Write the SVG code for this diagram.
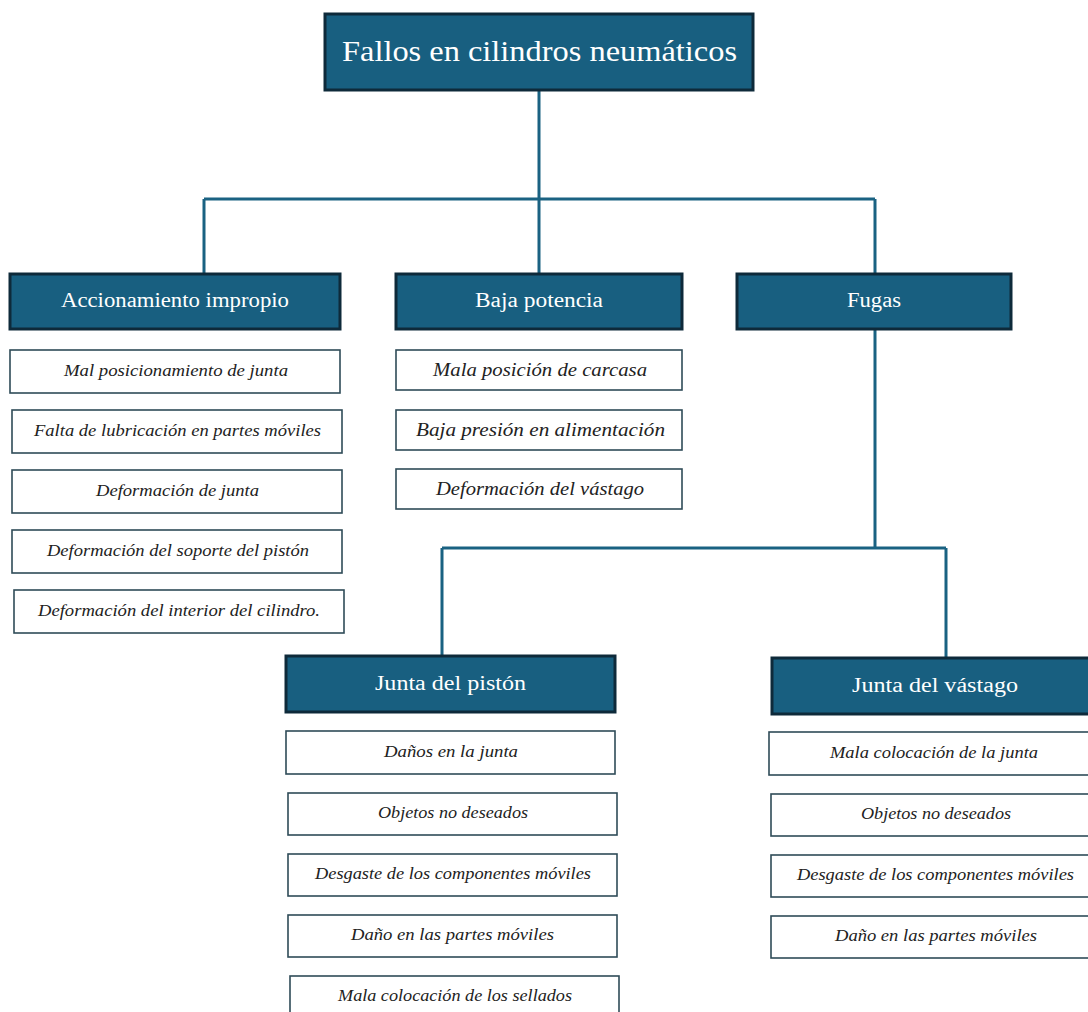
<svg xmlns="http://www.w3.org/2000/svg" width="1088" height="1012" viewBox="0 0 1088 1012">
<style>
.hd{fill:#185f80;stroke:#0e2a3a;stroke-width:3}
.it{fill:#ffffff;stroke:#2f4b58;stroke-width:1.6}
.ht{font-family:"Liberation Serif","DejaVu Serif",serif;fill:#ffffff;text-anchor:middle;font-size:20px}
.tt{font-size:29px}
.ix{font-family:"Liberation Serif","DejaVu Serif",serif;font-style:italic;fill:#222222;text-anchor:middle;font-size:16px}
.im{font-size:19px}
.cn{fill:none;stroke:#1a6282;stroke-width:3}
</style>
<rect width="1088" height="1012" fill="#ffffff"/>
<g id="connectors">
<path class="cn" d="M539 90 V199 M204 199 H875 M204 199 V274 M539 199 V274 M875 199 V274"/>
<path class="cn" d="M875 329 V548 M442 548 H946 M442 548 V656 M946 548 V658"/>
</g>
<g id="root"><rect class="hd" x="325" y="14" width="428" height="76"/><text class="ht tt" x="539.5" y="61" textLength="395" lengthAdjust="spacingAndGlyphs">Fallos en cilindros neumáticos</text></g>
<g id="accionamiento"><rect class="hd" x="10" y="274" width="330" height="55"/><text class="ht" x="175" y="307" textLength="228" lengthAdjust="spacingAndGlyphs">Accionamiento impropio</text></g>
<g id="baja"><rect class="hd" x="396" y="274" width="286" height="55"/><text class="ht" x="539" y="307" textLength="128" lengthAdjust="spacingAndGlyphs">Baja potencia</text></g>
<g id="fugas"><rect class="hd" x="737" y="274" width="274" height="55"/><text class="ht" x="874" y="307" textLength="54" lengthAdjust="spacingAndGlyphs">Fugas</text></g>
<g id="piston"><rect class="hd" x="286" y="656" width="329" height="56"/><text class="ht" x="450.5" y="690" textLength="151" lengthAdjust="spacingAndGlyphs">Junta del pistón</text></g>
<g id="vastago"><rect class="hd" x="772" y="658" width="330" height="56"/><text class="ht" x="935" y="692" textLength="166" lengthAdjust="spacingAndGlyphs">Junta del vástago</text></g>

<g id="a1"><rect class="it" x="10" y="350" width="330" height="43"/><text class="ix" x="176" y="376" textLength="224" lengthAdjust="spacingAndGlyphs">Mal posicionamiento de junta</text></g>
<g id="a2"><rect class="it" x="12" y="410" width="330" height="43"/><text class="ix" x="177.5" y="436" textLength="287" lengthAdjust="spacingAndGlyphs">Falta de lubricación en partes móviles</text></g>
<g id="a3"><rect class="it" x="12" y="470" width="330" height="43"/><text class="ix" x="177.5" y="496" textLength="163" lengthAdjust="spacingAndGlyphs">Deformación de junta</text></g>
<g id="a4"><rect class="it" x="12" y="530" width="330" height="43"/><text class="ix" x="178" y="556" textLength="262" lengthAdjust="spacingAndGlyphs">Deformación del soporte del pistón</text></g>
<g id="a5"><rect class="it" x="14" y="590" width="330" height="43"/><text class="ix" x="179" y="616" textLength="282" lengthAdjust="spacingAndGlyphs">Deformación del interior del cilindro.</text></g>

<g id="b1"><rect class="it" x="396" y="350" width="286" height="40"/><text class="ix im" x="540" y="376" textLength="214" lengthAdjust="spacingAndGlyphs">Mala posición de carcasa</text></g>
<g id="b2"><rect class="it" x="396" y="410" width="286" height="40"/><text class="ix im" x="540.5" y="436" textLength="249" lengthAdjust="spacingAndGlyphs">Baja presión en alimentación</text></g>
<g id="b3"><rect class="it" x="396" y="469" width="286" height="40"/><text class="ix im" x="540" y="495" textLength="208" lengthAdjust="spacingAndGlyphs">Deformación del vástago</text></g>

<g id="p1"><rect class="it" x="286" y="731" width="329" height="43"/><text class="ix" x="451" y="757" textLength="134" lengthAdjust="spacingAndGlyphs">Daños en la junta</text></g>
<g id="p2"><rect class="it" x="288" y="793" width="329" height="42"/><text class="ix" x="453" y="818" textLength="150" lengthAdjust="spacingAndGlyphs">Objetos no deseados</text></g>
<g id="p3"><rect class="it" x="288" y="854" width="329" height="42"/><text class="ix" x="453" y="879" textLength="276" lengthAdjust="spacingAndGlyphs">Desgaste de los componentes móviles</text></g>
<g id="p4"><rect class="it" x="288" y="915" width="329" height="42"/><text class="ix" x="452.5" y="940" textLength="203" lengthAdjust="spacingAndGlyphs">Daño en las partes móviles</text></g>
<g id="p5"><rect class="it" x="290" y="976" width="329" height="43"/><text class="ix" x="455" y="1001" textLength="234" lengthAdjust="spacingAndGlyphs">Mala colocación de los sellados</text></g>

<g id="v1"><rect class="it" x="769" y="732" width="330" height="43"/><text class="ix" x="934" y="758" textLength="208" lengthAdjust="spacingAndGlyphs">Mala colocación de la junta</text></g>
<g id="v2"><rect class="it" x="771" y="794" width="330" height="42"/><text class="ix" x="936" y="819" textLength="150" lengthAdjust="spacingAndGlyphs">Objetos no deseados</text></g>
<g id="v3"><rect class="it" x="771" y="855" width="330" height="42"/><text class="ix" x="935.5" y="880" textLength="277" lengthAdjust="spacingAndGlyphs">Desgaste de los componentes móviles</text></g>
<g id="v4"><rect class="it" x="771" y="916" width="330" height="42"/><text class="ix" x="936" y="941" textLength="202" lengthAdjust="spacingAndGlyphs">Daño en las partes móviles</text></g>
</svg>
